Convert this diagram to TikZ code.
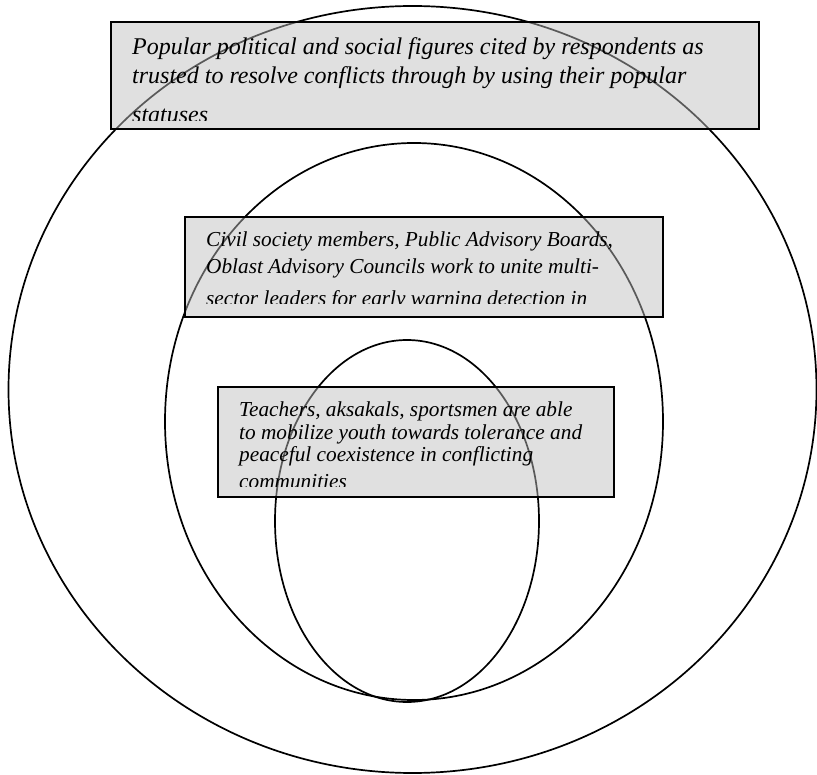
\documentclass[tikz,border=0pt]{standalone}
\usepackage{fontspec}
\setmainfont{Liberation Serif}
\begin{document}
\begin{tikzpicture}[x=1pt,y=-1pt,
  ring/.style={draw=black,line width=1.7pt},
  panel/.style={fill={rgb,255:red,189;green,189;blue,189},fill opacity=0.475,draw=black,draw opacity=1,line width=2.3pt},
  bigtext/.style={anchor=base west,inner sep=0pt,font=\fontsize{24}{28}\selectfont\itshape},
  smalltext/.style={anchor=base west,inner sep=0pt,font=\fontsize{21.3}{26}\selectfont\itshape}]
\useasboundingbox (0,0) rectangle (817,775);

% nested circles of influence
\draw[ring] (412.5,389.5) ellipse [x radius=404, y radius=383.5];
\draw[ring] (414,421.5) ellipse [x radius=249, y radius=278.5];
\draw[ring] (407,521) ellipse [x radius=132, y radius=181];

% outer panel
\draw[panel] (111,22) rectangle (759,129);
\begin{scope}
  \clip (113,24) rectangle (757,121);
  \node[bigtext] (t1) at (132,55) {Popular political and social figures cited by respondents as};
  \node[bigtext] (t2) at (132,84) {trusted to resolve conflicts through by using their popular};
  \node[bigtext] (t3) at (132,123) {statuses};
\end{scope}

% middle panel
\draw[panel] (185,217) rectangle (663,317);
\begin{scope}
  \clip (187,219) rectangle (661,304);
  \node[smalltext] (m1) at (206,247) {Civil society members, Public Advisory Boards,};
  \node[smalltext] (m2) at (206,274) {Oblast Advisory Councils work to unite multi-};
  \node[smalltext] (m3) at (206,306) {sector leaders for early warning detection in};
\end{scope}

% inner panel
\draw[panel] (218,387) rectangle (614,497);
\begin{scope}
  \clip (220,389) rectangle (612,487);
  \node[smalltext] (i1) at (239,417) {Teachers, aksakals, sportsmen are able};
  \node[smalltext] (i2) at (239,439.5) {to mobilize youth towards tolerance and};
  \node[smalltext] (i3) at (239,462) {peaceful coexistence in conflicting};
  \node[smalltext] (i4) at (239,489) {communities};
\end{scope}
\end{tikzpicture}
\end{document}
